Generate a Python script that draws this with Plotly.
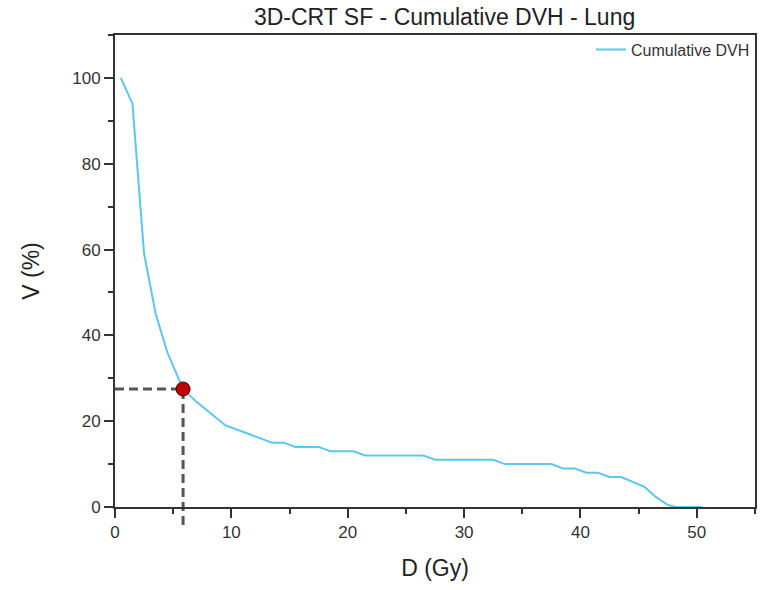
import plotly.graph_objects as go

# Cumulative DVH data
dose = [0.5, 1.5, 2.5, 3.5, 4.5, 5.85, 7, 8, 9.5, 11.5, 13.5, 14.5, 15.5, 17.5,
        18.5, 20.5, 21.5, 26.5, 27.5, 32.5, 33.5, 37.5, 38.5, 39.5, 40.5, 41.5,
        42.5, 43.5, 44.5, 45.5, 46.5, 47.5, 48.2, 50.5]
volume = [100, 94, 59, 45, 36, 27.5, 24.5, 22.3, 19, 17, 15, 15, 14, 14,
          13, 13, 12, 12, 11, 11, 10, 10, 9, 9, 8, 8,
          7, 7, 5.8, 4.7, 2.3, 0.5, 0, 0]

# Highlighted point
point_dose = [5.85]
point_volume = [27.5]

x_ticks = [0, 10, 20, 30, 40, 50]
y_ticks = [0, 20, 40, 60, 80, 100]

FONT = "Arial, Liberation Sans, sans-serif"
AXIS_COL = "#333333"

fig = go.Figure()
fig.add_trace(go.Scatter(
    x=dose, y=volume, mode="lines", name="Cumulative DVH",
    line=dict(color="#5bc6f2", width=2),
))
fig.add_trace(go.Scatter(
    x=point_dose, y=point_volume, mode="markers", showlegend=False,
    marker=dict(size=14, color="#c00000", line=dict(color="#4a0000", width=1)),
    cliponaxis=False,
))

# dashed guide lines
fig.add_shape(type="line", xref="x", yref="y",
              x0=0, x1=point_dose[0], y0=point_volume[0], y1=point_volume[0],
              line=dict(color="#555555", width=3, dash="9px,5px"), layer="below")
fig.add_shape(type="line", xref="x", yref="paper",
              x0=point_dose[0], x1=point_dose[0], y0=-0.038, y1=point_volume[0] / 110,
              line=dict(color="#555555", width=3, dash="9px,5px"), layer="below")

fig.update_layout(
    width=760, height=590,
    margin=dict(l=115, r=3, t=35, b=83),
    paper_bgcolor="white", plot_bgcolor="white",
    font=dict(family=FONT, color=AXIS_COL),
    title=dict(text="3D-CRT SF - Cumulative DVH - Lung", x=0.515, xref="paper",
               xanchor="center", y=0.971, yanchor="middle",
               font=dict(size=23, color="#222222", family=FONT)),
    legend=dict(x=1, y=1.005, xanchor="right", yanchor="top",
                bgcolor="rgba(0,0,0,0)", font=dict(size=16, color=AXIS_COL)),
    showlegend=True,
)
fig.update_xaxes(
    range=[0, 55], tickvals=x_ticks, showgrid=False, zeroline=False,
    showline=True, linecolor=AXIS_COL, linewidth=2, mirror=True,
    ticks="outside", ticklen=9, tickwidth=2, tickcolor=AXIS_COL,
    minor=dict(dtick=5, ticks="outside", ticklen=5, tickwidth=2, tickcolor=AXIS_COL),
    tickfont=dict(size=17, color=AXIS_COL),
    title=dict(text="D (Gy)", font=dict(size=23, color="#222222"), standoff=18),
)
fig.update_yaxes(
    range=[0, 110], tickvals=y_ticks, showgrid=False, zeroline=False,
    showline=True, linecolor=AXIS_COL, linewidth=2, mirror=True,
    ticks="outside", ticklen=9, tickwidth=2, tickcolor=AXIS_COL,
    minor=dict(dtick=10, ticks="outside", ticklen=5, tickwidth=2, tickcolor=AXIS_COL),
    tickfont=dict(size=17, color=AXIS_COL),
    title=dict(text="V (%)", font=dict(size=23, color="#222222"), standoff=26),
)

fig.write_html("out.html")
